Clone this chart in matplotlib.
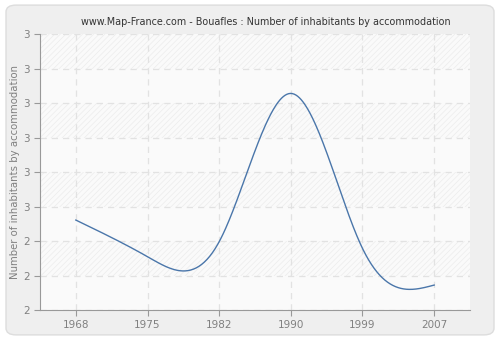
import matplotlib
matplotlib.use("Agg")
import matplotlib.pyplot as plt
from matplotlib.patches import FancyBboxPatch
import numpy as np

years = [1968, 1975, 1982, 1990, 1999, 2007]
values = [2.457, 2.271, 2.347, 3.100, 2.313, 2.127]
yticks = [2.0, 2.175, 2.35, 2.525, 2.7, 2.875, 3.05, 3.225, 3.4]
title = "www.Map-France.com - Bouafles : Number of inhabitants by accommodation"
ylabel = "Number of inhabitants by accommodation"


def natural_spline(x, y, xs):
    x = np.asarray(x, float)
    y = np.asarray(y, float)
    n = len(x)
    h = np.diff(x)
    A = np.zeros((n, n))
    r = np.zeros(n)
    A[0, 0] = A[-1, -1] = 1
    for i in range(1, n - 1):
        A[i, i - 1] = h[i - 1]
        A[i, i] = 2 * (h[i - 1] + h[i])
        A[i, i + 1] = h[i]
        r[i] = 6 * ((y[i + 1] - y[i]) / h[i] - (y[i] - y[i - 1]) / h[i - 1])
    m = np.linalg.solve(A, r)
    out = np.empty_like(xs)
    for k, t in enumerate(xs):
        i = min(np.searchsorted(x, t, side="right") - 1, n - 2)
        a, b = x[i], x[i + 1]
        hi = b - a
        out[k] = (m[i] * (b - t) ** 3 / (6 * hi) + m[i + 1] * (t - a) ** 3 / (6 * hi)
                  + (y[i] / hi - m[i] * hi / 6) * (b - t)
                  + (y[i + 1] / hi - m[i + 1] * hi / 6) * (t - a))
    return out


plt.rcParams["hatch.linewidth"] = 0.5

fig = plt.figure(figsize=(5, 3.4), dpi=100)
fig.patch.set_facecolor("white")
bg = FancyBboxPatch((0.012, 0.015), 0.976, 0.97, boxstyle="round,pad=0,rounding_size=0.02",
                    transform=fig.transFigure, facecolor="#efefef", edgecolor="#dddddd",
                    linewidth=1, zorder=-10)
fig.patches.append(bg)

ax = fig.add_axes([0.08, 0.088, 0.86, 0.811])
ax.set_facecolor("#fafafa")

# census years are placed at equal spacing (categorical axis)
pos = np.arange(len(years))
ax.set_xlim(-0.5, len(years) - 0.5)
ax.set_ylim(yticks[0], yticks[-1])

# alternating hatched bands
for i in range(len(yticks) - 1):
    if (len(yticks) - 2 - i) % 2 == 0:
        ax.axhspan(yticks[i], yticks[i + 1], facecolor="none", edgecolor="#ececec",
                   hatch="//////", linewidth=0, zorder=0)

xs = np.linspace(pos[0], pos[-1], 400)
ax.plot(xs, natural_spline(pos, values, xs), color="#4a76aa", linewidth=1, zorder=3)

ax.set_xticks(pos)
ax.set_xticklabels([str(y) for y in years])
ax.set_yticks(yticks)
ax.set_yticklabels([f"{v:.0f}" for v in yticks])
ax.grid(True, color="#e2e2e2", linestyle=(0, (5, 4)), linewidth=0.9)
ax.set_axisbelow(True)

for s in ["top", "right"]:
    ax.spines[s].set_visible(False)
for s in ["left", "bottom"]:
    ax.spines[s].set_color("#999999")
ax.tick_params(colors="#999999", labelcolor="#808080", labelsize=7.5, length=4, width=0.8)
ax.set_ylabel(ylabel, color="#808080", fontsize=7.3, labelpad=2)
fig.text(0.532, 0.935, title, ha="center", va="center", fontsize=6.9, color="#333333")

fig.savefig("out.png", dpi=100)
